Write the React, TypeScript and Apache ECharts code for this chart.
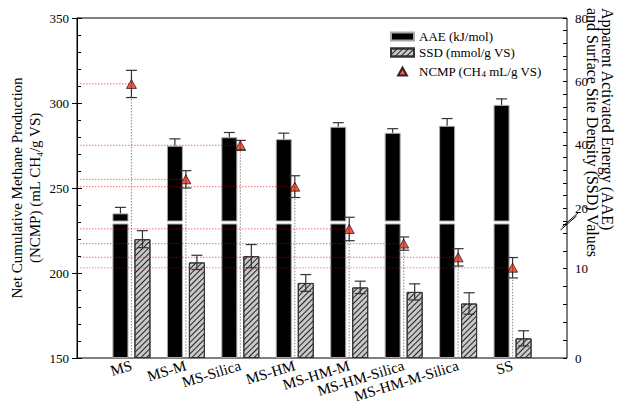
import React, { useEffect, useRef } from 'react';
import * as echarts from 'echarts';

const categories = ['MS', 'MS-M', 'MS-Silica', 'MS-HM', 'MS-HM-M', 'MS-HM-Silica', 'MS-HM-M-Silica', 'SS'];
const aaeValues = [18.4, 39.7, 42.4, 41.8, 45.7, 43.8, 46.0, 52.6];
const aaeErrors = [1.9, 2.2, 1.5, 1.9, 1.3, 1.3, 2.3, 1.9];
const ssdValues = [13.3, 10.7, 11.4, 8.4, 7.9, 7.4, 6.1, 2.2];
const ssdErrors = [0.95, 0.8, 1.3, 0.94, 0.7, 0.9, 1.2, 0.85];
const ncmpValues = [311.2, 255.1, 275.1, 250.8, 225.9, 217.3, 209.2, 203.1];
const ncmpErrors = [8.0, 5.1, 2.9, 6.4, 6.9, 3.9, 5.1, 6.0];
const upperRightLabelValues = [20, 40, 60, 80];
const lowerRightLabelValues = [0, 10];

const AAE_NAME = 'AAE (kJ/mol)';
const SSD_NAME = 'SSD (mmol/g VS)';
const NCMP_NAME = 'NCMP (CH4 mL/g VS)';
const FONT = "'Liberation Serif', 'Times New Roman', serif";

const slot = 490 / 9;
const catLeft = 77 + slot / 2;
const catRight = 56 + slot / 2;

const subStyle = { fontSize: 9, fontFamily: FONT, verticalAlign: 'bottom', lineHeight: 9, padding: [7, 0, 0, 0] };

function errorBarRender(offset: number, upperOnly: boolean) {
  return (params: any, api: any) => {
    const i = api.value(0);
    const v = api.value(1);
    const e = api.value(2);
    const top = api.coord([i, v + e]);
    const bot = api.coord([i, upperOnly ? v : v - e]);
    const x = top[0] + offset;
    const st = { stroke: '#333', lineWidth: 1.2 };
    const children: any[] = [
      { type: 'line', shape: { x1: x, y1: top[1], x2: x, y2: bot[1] }, style: st },
      { type: 'line', shape: { x1: x - 5.5, y1: top[1], x2: x + 5.5, y2: top[1] }, style: st },
    ];
    if (!upperOnly) {
      children.push({ type: 'line', shape: { x1: x - 5.5, y1: bot[1], x2: x + 5.5, y2: bot[1] }, style: st });
    }
    return { type: 'group', children };
  };
}

function buildOption(): any {
  const tickLabel = { fontFamily: FONT, fontSize: 13, color: '#000' };
  return {
    animation: false,
    textStyle: { fontFamily: FONT },
    grid: [
      { left: 77, right: 56, top: 18, bottom: 49, show: true, borderColor: '#000', borderWidth: 1, outerBoundsMode: 'none' },
      { left: catLeft, right: catRight, top: 18, height: 203, outerBoundsMode: 'none' },
      { left: catLeft, right: catRight, top: 224, bottom: 49, outerBoundsMode: 'none' },
    ],
    legend: {
      orient: 'vertical',
      left: 390,
      top: 30,
      padding: 0,
      itemWidth: 23,
      itemHeight: 8,
      itemGap: 3,
      selectedMode: false,
      symbolKeepAspect: true,
      data: [
        { name: AAE_NAME, icon: 'rect' },
        { name: SSD_NAME, icon: 'rect' },
        { name: NCMP_NAME, icon: 'path://M5,0L10,9L0,9Z' },
      ],
      formatter: (name: string) => (name === NCMP_NAME ? 'NCMP (CH{sub|4} mL/g VS)' : name),
      textStyle: { fontFamily: FONT, fontSize: 13, color: '#000', rich: { sub: subStyle } },
    },
    xAxis: [
      { gridIndex: 0, type: 'value', min: 0, max: 9, show: false },
      { gridIndex: 1, type: 'category', data: categories, show: false },
      {
        gridIndex: 2,
        type: 'category',
        data: categories,
        axisLine: { show: false },
        axisTick: { show: false },
        axisLabel: { interval: 0, rotate: 17, margin: 7, fontFamily: FONT, fontSize: 15, color: '#000' },
      },
    ],
    yAxis: [
      {
        gridIndex: 0,
        type: 'value',
        position: 'left',
        min: 150,
        max: 350,
        interval: 50,
        axisLine: { show: true, lineStyle: { color: '#000' } },
        axisTick: { show: true, inside: true, length: 5, lineStyle: { color: '#000' } },
        minorTick: { show: true, splitNumber: 5, length: 4, lineStyle: { color: '#000' } },
        axisLabel: { ...tickLabel, margin: 8 },
        splitLine: { show: false },
        minorSplitLine: { show: false },
      },
      {
        gridIndex: 1,
        type: 'value',
        position: 'right',
        offset: slot / 2,
        min: 16,
        max: 80,
        interval: 4,
        axisLine: { show: false },
        axisTick: { show: true, inside: true, length: 4, lineStyle: { color: '#000' } },
        axisLabel: { ...tickLabel, margin: 8, formatter: (v: number) => (upperRightLabelValues.includes(v) ? String(v) : '') },
        splitLine: { show: false },
      },
      {
        gridIndex: 2,
        type: 'value',
        position: 'right',
        offset: slot / 2,
        min: 0,
        max: 15,
        interval: 2,
        axisLine: { show: false },
        axisTick: { show: true, inside: true, length: 4, lineStyle: { color: '#000' } },
        axisLabel: { ...tickLabel, margin: 8, formatter: (v: number) => (lowerRightLabelValues.includes(v) ? String(v) : '') },
        splitLine: { show: false },
      },
      {
        gridIndex: 0,
        type: 'value',
        position: 'left',
        min: 150,
        max: 350,
        interval: 50,
        axisLine: { show: false },
        axisTick: { show: true, inside: false, length: 5, lineStyle: { color: '#000' } },
        axisLabel: { show: false },
        splitLine: { show: false },
      },
    ],
    series: [
      {
        name: AAE_NAME,
        type: 'bar',
        xAxisIndex: 1,
        yAxisIndex: 1,
        data: aaeValues,
        barWidth: 16,
        barGap: '37.5%',
        clip: true,
        itemStyle: { color: '#000', borderColor: '#aaa', borderWidth: 1 },
        z: 2,
      },
      {
        name: '_pad',
        type: 'bar',
        xAxisIndex: 1,
        yAxisIndex: 1,
        data: categories.map(() => '-'),
        barWidth: 16,
        barGap: '37.5%',
        z: 2,
      },
      {
        name: AAE_NAME,
        type: 'bar',
        xAxisIndex: 2,
        yAxisIndex: 2,
        data: aaeValues,
        barWidth: 16,
        barGap: '37.5%',
        clip: true,
        itemStyle: { color: '#000', borderColor: '#aaa', borderWidth: 1 },
        z: 2,
      },
      {
        name: SSD_NAME,
        type: 'bar',
        xAxisIndex: 2,
        yAxisIndex: 2,
        data: ssdValues,
        barWidth: 16,
        barGap: '37.5%',
        clip: true,
        itemStyle: {
          color: '#c8c8c8',
          borderColor: '#333',
          borderWidth: 1,
          decal: {
            symbol: 'rect',
            symbolSize: 1,
            color: '#222',
            dashArrayX: [1, 0],
            dashArrayY: [1, 3],
            rotation: -Math.PI / 4,
          },
        },
        z: 2,
      },
      {
        type: 'custom',
        xAxisIndex: 1,
        yAxisIndex: 1,
        data: aaeValues.map((v, i) => [i, v, aaeErrors[i]]),
        encode: { x: 0, y: 1 },
        renderItem: errorBarRender(-11, true),
        z: 4,
      },
      {
        type: 'custom',
        xAxisIndex: 2,
        yAxisIndex: 2,
        data: ssdValues.map((v, i) => [i, v, ssdErrors[i]]),
        encode: { x: 0, y: 1 },
        renderItem: errorBarRender(11, false),
        z: 4,
      },
      {
        type: 'custom',
        xAxisIndex: 0,
        yAxisIndex: 0,
        data: ncmpValues.map((v, i) => [i + 1, v]),
        encode: { x: 0, y: 1 },
        renderItem: (params: any, api: any) => {
          const x = api.value(0);
          const v = api.value(1);
          const p = api.coord([x, v]);
          const l = api.coord([0, v]);
          const b = api.coord([x, 150]);
          return {
            type: 'group',
            children: [
              { type: 'line', shape: { x1: l[0], y1: p[1], x2: p[0], y2: p[1] }, style: { stroke: 'rgba(230,0,0,0.45)', lineWidth: 1.2, lineDash: [1.5, 1.5] } },
              { type: 'line', shape: { x1: p[0], y1: p[1], x2: b[0], y2: b[1] }, style: { stroke: '#999', lineWidth: 1.2, lineDash: [1.5, 1.5] } },
            ],
          };
        },
        z: 5,
      },
      {
        type: 'custom',
        xAxisIndex: 0,
        yAxisIndex: 0,
        data: ncmpValues.map((v, i) => [i + 1, v, ncmpErrors[i]]),
        encode: { x: 0, y: 1 },
        renderItem: errorBarRender(0, false),
        z: 6,
      },
      {
        name: NCMP_NAME,
        type: 'scatter',
        xAxisIndex: 0,
        yAxisIndex: 0,
        data: ncmpValues.map((v, i) => [i + 1, v]),
        symbol: 'triangle',
        symbolSize: [10, 9],
        itemStyle: { color: '#e8321e', borderColor: '#000', borderWidth: 0.8 },
        z: 10,
      },
    ],
    graphic: [
      {
        type: 'text',
        x: 26,
        y: 188,
        rotation: Math.PI / 2,
        style: {
          text: 'Net Cumulative Methane Production\n(NCMP) (mL CH{sub|4}/g VS)',
          fontFamily: FONT,
          fontSize: 15,
          lineHeight: 18,
          align: 'center',
          verticalAlign: 'middle',
          fill: '#000',
          rich: { sub: subStyle },
        },
      },
      {
        type: 'text',
        x: 600,
        y: 8,
        rotation: -Math.PI / 2,
        style: {
          text: 'Apparent Activated Energy (AAE)\nand Surface Site Density (SSD) Values',
          fontFamily: FONT,
          fontSize: 16,
          lineHeight: 15,
          align: 'left',
          verticalAlign: 'middle',
          fill: '#000',
        },
      },
      { type: 'line', shape: { x1: 560.5, y1: 230, x2: 576.5, y2: 216 }, style: { stroke: '#000', lineWidth: 1 }, z: 100 },
      { type: 'line', shape: { x1: 562.5, y1: 226.5, x2: 578.5, y2: 212.5 }, style: { stroke: '#000', lineWidth: 1 }, z: 100 },
    ],
  };
}

export default function App() {
  const ref = useRef<HTMLDivElement>(null);
  useEffect(() => {
    document.body.style.margin = '0';
    const chart = echarts.init(ref.current!, null, { renderer: 'svg' });
    chart.setOption(buildOption());
    return () => chart.dispose();
  }, []);
  return <div ref={ref} style={{ width: 623, height: 407 }} />;
}
